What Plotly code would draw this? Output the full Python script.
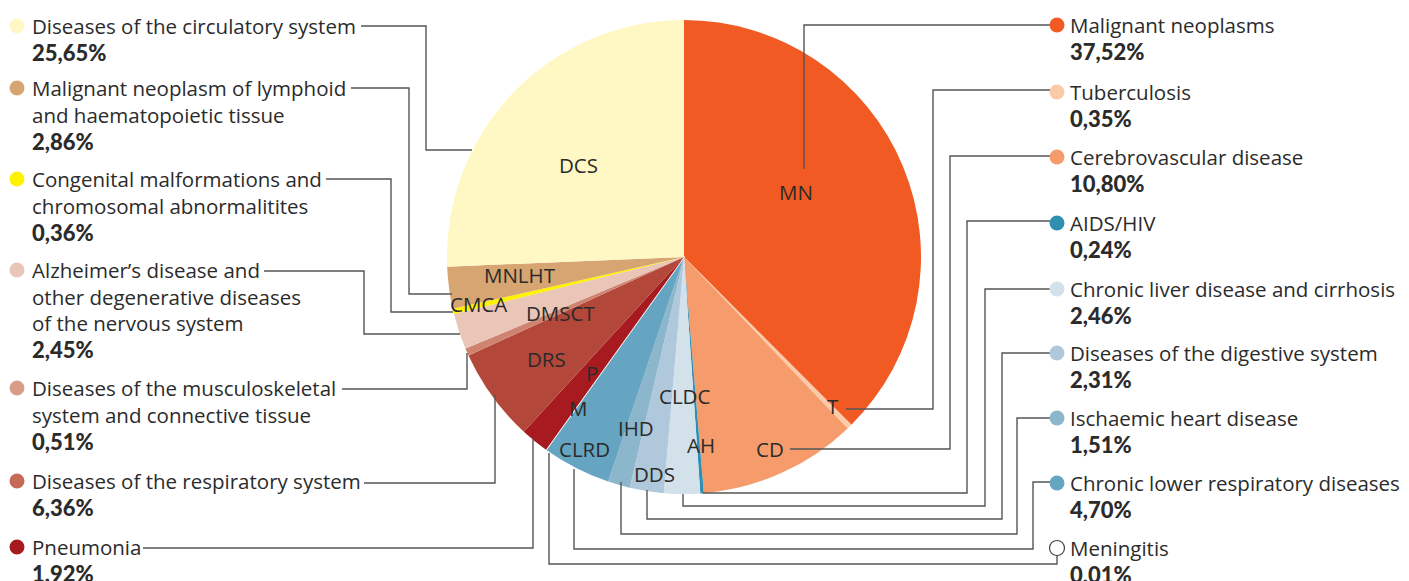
import plotly.graph_objects as go

# ---------------- data ----------------
names = [
    "Malignant neoplasms",
    "Tuberculosis",
    "Cerebrovascular disease",
    "AIDS/HIV",
    "Chronic liver disease and cirrhosis",
    "Diseases of the digestive system",
    "Ischaemic heart disease",
    "Chronic lower respiratory diseases",
    "Meningitis",
    "Pneumonia",
    "Diseases of the respiratory system",
    "Diseases of the musculoskeletal|system and connective tissue",
    "Alzheimer’s disease and|other degenerative diseases|of the nervous system",
    "Congenital malformations and|chromosomal abnormalitites",
    "Malignant neoplasm of lymphoid|and haematopoietic tissue",
    "Diseases of the circulatory system",
]
abbrevs = ["MN", "T", "CD", "AH", "CLDC", "DDS", "IHD", "CLRD", "M", "P",
           "DRS", "DMSCT", "", "CMCA", "MNLHT", "DCS"]
values = [37.52, 0.35, 10.80, 0.24, 2.46, 2.31, 1.51, 4.70, 0.01, 1.92,
          6.36, 0.51, 2.45, 0.36, 2.86, 25.65]
colors = ["#f15a22", "#fbcaa9", "#f69c6c", "#2f8fb1", "#d3e1eb", "#b0c8db",
          "#8bb6cb", "#65a5c1", "#ffffff", "#a71a20", "#b3483a", "#cf8471",
          "#e9c6b7", "#fff200", "#d6a571", "#fff8c4"]
dot_colors = ["#f15a22", "#fbcaa9", "#f69c6c", "#2f8fb1", "#d3e1eb", "#b0c8db",
              "#8bb6cb", "#65a5c1", "#ffffff", "#a71a20", "#c66a58", "#d89d89",
              "#e9c6b7", "#fff200", "#d6a571", "#fff8c4"]
pct_labels = [f"{v:.2f}".replace(".", ",") + "%" for v in values]

# ---------------- layout helpers (pixel space of the 1409x581 page) ----------------
W, H = 1409, 581
CX, CY, R = 684, 257, 237


def px(x):
    return x / W


def py(y):
    return 1 - y / H


fig = go.Figure(go.Pie(
    values=values,
    labels=names,
    sort=False,
    direction="clockwise",
    rotation=0,
    marker=dict(colors=colors,
                line=dict(color="#ffffff",
                          width=[1.6 if a == "M" else 0 for a in abbrevs])),
    textinfo="none",
    hoverinfo="label+percent",
    showlegend=False,
    domain=dict(x=[px(CX - R), px(CX + R)], y=[py(CY + R), py(CY - R)]),
))

# in-slice abbreviation positions (pixels)
abbr_pos = {
    "MN": (796, 192), "T": (833, 406), "CD": (770, 449), "AH": (701, 445),
    "CLDC": (684, 396), "DDS": (654, 474), "IHD": (636, 428), "CLRD": (584, 449),
    "M": (578, 408), "P": (592, 373), "DRS": (546, 359), "DMSCT": (560, 313),
    "CMCA": (478, 304), "MNLHT": (520, 275), "DCS": (578, 165),
}

# legend blocks: (slice index, first-line y)
left_items = [(15, 26), (14, 88), (13, 179), (12, 270), (11, 388), (10, 481), (9, 547)]
right_items = [(0, 25), (1, 92), (2, 157), (3, 223), (4, 289), (5, 353), (6, 418), (7, 483), (8, 548)]
LINE_H = 26.6

# leader lines (pixel polylines), keyed by slice index
leaders = {
    15: [(361, 26), (426, 26), (426, 150), (472, 150)],
    14: [(351, 88), (409, 88), (409, 294), (452, 294)],
    13: [(326, 179), (391, 179), (391, 312), (453, 312)],
    12: [(264, 271), (364, 271), (364, 334), (460, 334)],
    11: [(342, 389), (467, 389), (467, 353)],
    10: [(364, 483), (495, 483), (495, 395)],
    9: [(143, 548), (533, 548), (533, 438)],
    0: [(804, 169), (804, 25), (1050, 25)],
    1: [(846, 409), (933, 409), (933, 90), (1050, 90)],
    2: [(790, 449), (950, 449), (950, 156), (1050, 156)],
    3: [(703, 493), (967, 493), (967, 221), (1050, 221)],
    4: [(683, 494), (683, 506), (985, 506), (985, 289), (1050, 289)],
    5: [(647, 490), (647, 519), (1002, 519), (1002, 353), (1050, 353)],
    6: [(621, 482), (621, 534), (1017, 534), (1017, 418), (1050, 418)],
    7: [(574, 469), (574, 549), (1033, 549), (1033, 482), (1050, 482)],
    8: [(549, 453), (549, 564), (1057, 564), (1057, 555)],
}

shapes = []
annotations = []
TXT = "#2b2b2b"
NAME_FONT = dict(family="Open Sans", size=20.5, color=TXT)
PCT_FONT = dict(family="Lato", size=22, color=TXT, weight=900)

for idx, pts in leaders.items():
    path = "M " + " L ".join(f"{px(x)},{py(y)}" for x, y in pts)
    shapes.append(dict(type="path", path=path, xref="paper", yref="paper",
                       line=dict(color="#555555", width=1.4)))


def add_block(idx, x_dot, x_txt, y0):
    r = 7.5
    is_open = colors[idx].lower() == "#ffffff"
    shapes.append(dict(type="circle", xref="paper", yref="paper",
                       x0=px(x_dot - r), x1=px(x_dot + r),
                       y0=py(y0 + r), y1=py(y0 - r),
                       fillcolor=dot_colors[idx],
                       line=dict(color="#444444" if is_open else dot_colors[idx],
                                 width=1.2 if is_open else 0)))
    lines = names[idx].split("|")
    for k, ln in enumerate(lines):
        annotations.append(dict(text=ln, x=px(x_txt), y=py(y0 + k * LINE_H),
                                xref="paper", yref="paper", xanchor="left", yanchor="middle",
                                showarrow=False, font=NAME_FONT))
    annotations.append(dict(text=pct_labels[idx], x=px(x_txt),
                            y=py(y0 + len(lines) * LINE_H),
                            xref="paper", yref="paper", xanchor="left", yanchor="middle",
                            showarrow=False, font=PCT_FONT))


for idx, y0 in left_items:
    add_block(idx, 17, 30, y0)
for idx, y0 in right_items:
    add_block(idx, 1057, 1068, y0)

for ab, (x, y) in abbr_pos.items():
    annotations.append(dict(text=ab, x=px(x), y=py(y), xref="paper", yref="paper",
                            xanchor="center", yanchor="middle", showarrow=False,
                            font=dict(family="Open Sans", size=20.5, color="#2b2b2b")))

fig.update_layout(
    width=W, height=H,
    margin=dict(l=0, r=0, t=0, b=0),
    paper_bgcolor="white", plot_bgcolor="white",
    shapes=shapes, annotations=annotations,
)

fig.write_html("out.html", config={"displayModeBar": False})
